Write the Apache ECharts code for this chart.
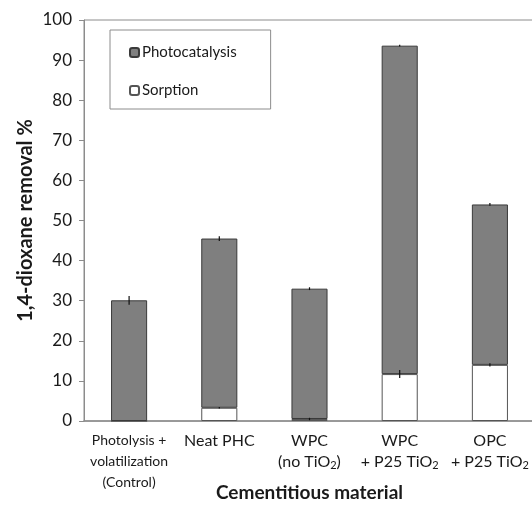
<!DOCTYPE html>
<html>
<head>
<meta charset="utf-8">
<script src="https://cdn.jsdelivr.net/npm/echarts@6/dist/echarts.min.js"></script>
<style>
  html, body { margin: 0; padding: 0; background: #fff; }
  #chart { width: 532px; height: 514px; }
</style>
</head>
<body>
<div id="chart"></div>
<script>
// Categories of cementitious material
const categories = [
  'Photolysis +\nvolatilization\n(Control)',
  'Neat PHC',
  'WPC\n(no TiO2)',
  'WPC\n+ P25 TiO2',
  'OPC\n+ P25 TiO2'
];
// Removal attributed to sorption (bottom segment), %
const sorption = [0, 3.3, 0.5, 11.7, 14.0];
// Removal attributed to photocatalysis (top segment), %
const photocatalysis = [30.1, 42.2, 32.5, 81.9, 40.0];
// Error half-widths at the top of each segment, %
const sorptionErr = [0, 0.2, 0.1, 1.0, 0.4];
const totalErr = [1.1, 0.6, 0.15, 0.2, 0.15];
// Y axis ticks
const yMin = 0, yMax = 100, yStep = 10;

const FONT = 'Lato, "Open Sans", sans-serif';

function labelFormatter(value, idx) {
  const lines = value.split('\n');
  const style = idx === 0 ? 's' : 'b';
  return lines.map(l => {
    if (l.indexOf('TiO2') >= 0) {
      const parts = l.split('TiO2');
      return '{' + style + '|' + parts[0] + 'TiO}{sub|2}' + (parts[1] ? '{' + style + '|' + parts[1] + '}' : '');
    }
    return '{' + style + '|' + l + '}';
  }).join('\n');
}

// Error bar points: [category index, segment top, half-width]
const errData = [];
categories.forEach((c, i) => {
  if (sorptionErr[i] > 0) errData.push([i, sorption[i], sorptionErr[i]]);
  errData.push([i, sorption[i] + photocatalysis[i], totalErr[i]]);
});

const chart = echarts.init(document.getElementById('chart'));
chart.setOption({
  animation: false,
  textStyle: { fontFamily: FONT },
  grid: {
    left: 84, right: -3, top: 20, bottom: 93,
    outerBoundsMode: 'none',
    show: true, borderColor: '#8c8c8c', borderWidth: 1
  },
  legend: {
    data: [
      { name: 'Photocatalysis' },
      { name: 'Sorption' }
    ],
    orient: 'vertical',
    left: 110, top: 30,
    itemWidth: 9, itemHeight: 9,
    itemGap: 23,
    padding: [15, 34, 11, 19],
    borderColor: '#8c8c8c', borderWidth: 1,
    textStyle: { fontSize: 15, color: '#1a1a1a', fontFamily: FONT, padding: [0, 0, 0, -2] }
  },
  xAxis: {
    type: 'category',
    data: categories,
    axisLine: { lineStyle: { color: '#8c8c8c', width: 1.5 } },
    axisTick: { show: false },
    axisLabel: {
      interval: 0,
      margin: 9,
      color: '#1a1a1a',
      formatter: labelFormatter,
      rich: {
        s: { fontSize: 14, lineHeight: 21, color: '#1a1a1a', fontFamily: FONT },
        b: { fontSize: 16, lineHeight: 21, color: '#1a1a1a', fontFamily: FONT },
        sub: { fontSize: 11, lineHeight: 21, color: '#1a1a1a', fontFamily: FONT, padding: [8, 0, 0, 0] }
      }
    },
    name: 'Cementitious material',
    nameLocation: 'middle',
    nameGap: 62,
    nameMoveOverlap: false,
    nameTextStyle: { fontSize: 19, fontWeight: 'bold', color: '#1a1a1a', fontFamily: FONT }
  },
  yAxis: {
    type: 'value',
    min: yMin, max: yMax, interval: yStep,
    splitLine: { show: false },
    axisLine: { show: true, lineStyle: { color: '#8c8c8c' } },
    axisTick: { show: true, length: 5, lineStyle: { color: '#8c8c8c' } },
    axisLabel: { fontSize: 17, color: '#1a1a1a', margin: 12, fontFamily: FONT },
    name: '1,4-dioxane removal %',
    nameLocation: 'middle',
    nameGap: 48,
    nameMoveOverlap: false,
    nameTextStyle: { fontSize: 20, fontWeight: 'bold', color: '#1a1a1a', fontFamily: FONT }
  },
  series: [
    {
      name: 'Sorption',
      type: 'bar',
      stack: 'total',
      barWidth: '40%',
      data: sorption,
      itemStyle: { color: '#ffffff', borderColor: '#555555', borderWidth: 1 }
    },
    {
      name: 'Photocatalysis',
      type: 'bar',
      stack: 'total',
      barWidth: '40%',
      data: photocatalysis,
      itemStyle: { color: '#7f7f7f', borderColor: '#3a3a3a', borderWidth: 1 }
    },
    {
      name: 'error',
      type: 'custom',
      data: errData,
      z: 10,
      renderItem: function (params, api) {
        const x = api.value(0);
        const y = api.value(1);
        const e = api.value(2);
        const p1 = api.coord([x, y + e]);
        const p2 = api.coord([x, y - e]);
        const tiny = Math.abs(p2[1] - p1[1]) < 1.5;
        return {
          type: 'line',
          shape: { x1: p1[0], y1: p1[1] - (tiny ? 0.8 : 0), x2: p2[0], y2: p2[1] + (tiny ? 0.8 : 0) },
          style: { stroke: '#111', lineWidth: 1.2 }
        };
      }
    }
  ]
});
</script>
</body>
</html>
